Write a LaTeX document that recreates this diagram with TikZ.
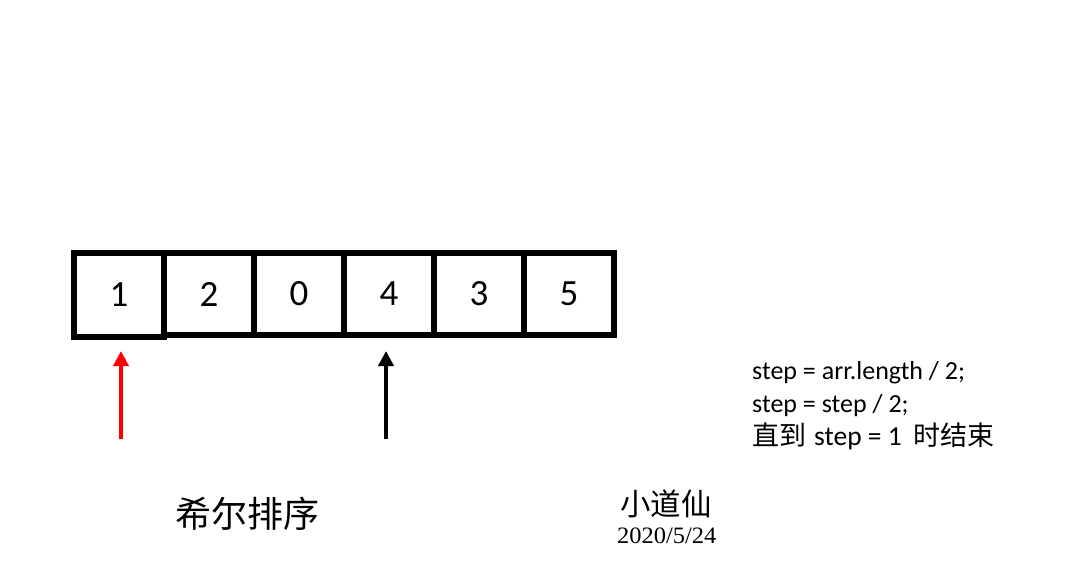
\documentclass[tikz,border=0pt]{standalone}
\usepackage{fontspec}
\setmainfont{Carlito}
\newfontfamily\cjk{Noto Sans CJK SC}
\newfontfamily\datefont[FakeStretch=1.04]{Liberation Serif}
\usetikzlibrary{arrows.meta}
\begin{document}
\begin{tikzpicture}[x=1pt,y=-1pt,
  cell/.style={draw=black,line width=6pt,minimum width=90pt,minimum height=82pt,inner sep=0pt,outer sep=0pt,font=\fontsize{37}{40}\selectfont},
  ptr/.style={line width=4pt,-{Triangle[length=15pt,width=15pt]}},
  code/.style={anchor=base west,inner sep=0pt,font=\fontsize{26}{33}\selectfont}]
\path[use as bounding box] (0,0) rectangle (1092,582);
\node[cell,minimum height=84pt] (c1) at (119,295) {1};
\node[cell] (c2) at (209,294) {2};
\node[cell] (c3) at (299,294) {0};
\node[cell] (c4) at (389,294) {4};
\node[cell] (c5) at (479,294) {3};
\node[cell] (c6) at (569,294) {5};
\coordinate (r0) at (121,439);
\coordinate (r1) at (121,351);
\coordinate (b0) at (386,439);
\coordinate (b1) at (386,351);
\draw[ptr,red] (r0) -- (r1);
\draw[ptr,black] (b0) -- (b1);
\node[code] (l1) at (752,379) {step = arr.length / 2;};
\node[code] (l2) at (752,412) {step = step / 2;};
\node[code] (l3) at (752,445) {{\cjk\fontsize{27}{33}\selectfont 直到}\hspace{8pt}{\fontsize{27.5}{33}\selectfont step = 1}\hspace{12pt}{\cjk\fontsize{27}{33}\selectfont 时结束}};
\node[anchor=west,inner sep=0pt,font=\cjk\fontsize{36}{40}\selectfont] (title) at (175,514) {希尔排序};
\node[anchor=west,inner sep=0pt,font=\cjk\fontsize{30.5}{34}\selectfont] (author) at (620,504) {小道仙};
\node[anchor=west,inner sep=0pt,font=\datefont\fontsize{23.5}{26}\selectfont] (date) at (617,536) {2020/5/24};
\end{tikzpicture}
\end{document}
